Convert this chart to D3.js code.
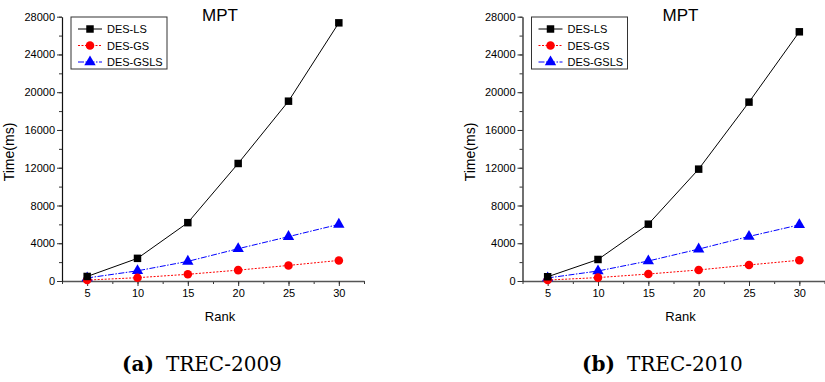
<!DOCTYPE html>
<html>
<head>
<meta charset="utf-8">
<script src="https://cdn.jsdelivr.net/npm/d3@7"></script>
<style>
    body { margin: 0; background: #fff; }
    svg { display: block; }
    .sans { font-family: 'Liberation Sans', Arial, sans-serif; }
    .serif { font-family: 'DejaVu Serif', 'Liberation Serif', serif; }
</style>
</head>
<body>
<div id="plot-area"><svg></svg></div>
<script>
// data declaration
const ranks = [5, 10, 15, 20, 25, 30];
const yTicks = [0, 4000, 8000, 12000, 16000, 20000, 24000, 28000];
const seriesNames = ['DES-LS', 'DES-GS', 'DES-GSLS'];

// TREC-2009
const lsTrec2009 = [480, 2400, 6180, 12450, 19050, 27350];
const gsTrec2009 = [100, 350, 710, 1150, 1650, 2180];
const gslsTrec2009 = [320, 1080, 2080, 3420, 4700, 6000];

// TREC-2010
const lsTrec2010 = [450, 2280, 6020, 11850, 18950, 26400];
const gsTrec2010 = [100, 360, 740, 1170, 1700, 2200];
const gslsTrec2010 = [320, 1060, 2120, 3380, 4720, 5950];

const black = '#000000';
const red = '#FF0000';
const blue = '#0000FF';

let svg = d3.select('#plot-area').select('svg')
    .attr('width', 825)
    .attr('height', 382);

function drawPanel(left, lsData, gsData, gslsData, tag, caption) {

    // Set the ranges
    let x = d3.scaleLinear().domain([2.5, 32.5]).range([left, left + 302]);
    let y = d3.scaleLinear().domain([0, 28000]).range([281, 16.7]);

    let g = svg.append('g');

    // minor ticks
    g.append('g')
        .attr('transform', 'translate(0,281)')
        .call(d3.axisBottom(x).tickValues(d3.range(2.5, 32.6, 2.5)).tickSize(3).tickFormat(''))
        .call(a => a.select('.domain').remove())
        .selectAll('line').attr('stroke', '#333');
    g.append('g')
        .attr('transform', 'translate(' + left + ',0)')
        .call(d3.axisLeft(y).tickValues(d3.range(0, 28001, 2000)).tickSize(3).tickFormat(''))
        .call(a => a.select('.domain').remove())
        .selectAll('line').attr('stroke', '#333');

    // Add the X Axis
    let xAxis = g.append('g')
        .attr('transform', 'translate(0,281)')
        .call(d3.axisBottom(x).tickValues(ranks).tickSize(5).tickSizeOuter(0).tickPadding(3)
            .tickFormat(d3.format('d')));
    xAxis.select('.domain').attr('stroke', '#555').attr('stroke-width', 1.6);

    // Add the Y Axis
    let yAxis = g.append('g')
        .attr('transform', 'translate(' + left + ',0)')
        .call(d3.axisLeft(y).tickValues(yTicks).tickSize(5).tickSizeOuter(0).tickPadding(2)
            .tickFormat(d3.format('d')));
    yAxis.select('.domain').attr('stroke', '#111').attr('stroke-width', 1.2);

    g.selectAll('.tick text')
        .attr('class', 'sans')
        .style('font-size', '11px')
        .attr('fill', '#000');
    g.selectAll('g').attr('font-family', null);
    g.selectAll('.tick line').attr('stroke', '#333');

    const series = [
        {name: seriesNames[0], values: lsData, colour: black, dash: null, shape: d3.symbolSquare, size: 56},
        {name: seriesNames[1], values: gsData, colour: red, dash: '2,1.5', shape: d3.symbolCircle, size: 58},
        {name: seriesNames[2], values: gslsData, colour: blue, dash: '6,1.5,1.5,1.5', shape: d3.symbolTriangle, size: 56}
    ];

    const valueline = d3.line()
        .x(function (d, i) { return x(ranks[i]); })
        .y(function (d) { return y(d); });

    // draw lines then markers
    series.slice().reverse().forEach(function (s) {
        g.append('path')
            .datum(s.values)
            .attr('fill', 'none')
            .attr('stroke', s.colour)
            .attr('stroke-width', 1)
            .attr('stroke-dasharray', s.dash)
            .attr('d', valueline);

        g.selectAll(null)
            .data(s.values)
            .enter().append('path')
            .attr('transform', function (d, i) {
                return 'translate(' + x(ranks[i]) + ',' + y(d) + ')';
            })
            .attr('d', d3.symbol().type(s.shape).size(s.size))
            .attr('fill', s.colour);
    });

    // Title
    g.append('text')
        .attr('class', 'sans')
        .attr('x', x(18.2))
        .attr('y', 21)
        .attr('text-anchor', 'middle')
        .style('font-size', '17px')
        .text('MPT');

    // Labelling
    g.append('text')
        .attr('class', 'sans')
        .attr('x', x(18.2))
        .attr('y', 321)
        .attr('text-anchor', 'middle')
        .style('font-size', '13px')
        .text('Rank');

    g.append('text')
        .attr('class', 'sans')
        .attr('transform', 'translate(' + (left - 48) + ',152) rotate(-90)')
        .attr('text-anchor', 'middle')
        .style('font-size', '14px')
        .text('Time(ms)');

    // legend box
    let legend = g.append('g')
        .attr('transform', 'translate(' + (left + 9) + ',17)');

    legend.append('rect')
        .attr('width', 96)
        .attr('height', 52)
        .attr('fill', '#fff')
        .attr('stroke', '#333')
        .attr('stroke-width', 1);

    series.forEach(function (s, i) {
        let row = legend.append('g')
            .attr('transform', 'translate(0,' + (12 + i * 16.5) + ')');
        row.append('line')
            .attr('x1', 7).attr('x2', 31)
            .attr('stroke', s.colour)
            .attr('stroke-width', 1)
            .attr('stroke-dasharray', s.dash);
        row.append('path')
            .attr('transform', 'translate(19,0)')
            .attr('d', d3.symbol().type(s.shape).size(s.size))
            .attr('fill', s.colour);
        row.append('text')
            .attr('class', 'sans')
            .attr('x', 36)
            .attr('y', 4)
            .style('font-size', '11px')
            .text(s.name);
    });

    // caption under the panel
    let cap = svg.append('text')
        .attr('class', 'serif')
        .attr('x', x(16.4))
        .attr('y', 371)
        .attr('text-anchor', 'middle')
        .style('font-size', '20px');
    cap.append('tspan').attr('font-weight', 'bold').text(tag);
    cap.append('tspan').attr('dx', 12).text(caption);
}

drawPanel(62, lsTrec2009, gsTrec2009, gslsTrec2009, '(a)', 'TREC-2009');
drawPanel(522.5, lsTrec2010, gsTrec2010, gslsTrec2010, '(b)', 'TREC-2010');
</script>
</body>
</html>
